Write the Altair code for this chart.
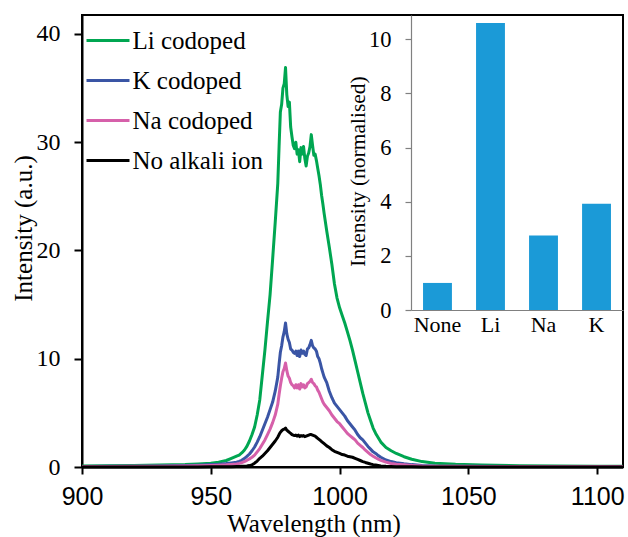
import altair as alt
import pandas as pd

# ---------------- data ----------------
WL = [900, 910, 920, 930, 940, 945, 950, 953, 956, 958,
      960, 961, 962, 963, 964, 965, 966, 967, 968, 969, 970, 971, 972, 973, 974, 975,
      976,
      976.5, 977, 977.5, 978, 978.5, 979, 979.5, 980, 980.5, 981, 981.5, 982,
      982.5, 983, 983.5, 984, 984.5, 985, 985.5, 986, 986.5, 987, 987.5, 988,
      988.5, 989, 989.5, 990, 990.5, 991, 991.5, 992, 992.5, 993, 993.5, 994,
      995, 996, 997, 998, 999, 1000, 1001, 1002, 1003, 1004, 1005, 1006, 1007,
      1008, 1009, 1010, 1011, 1012, 1013, 1014, 1015, 1016,
      1018, 1020, 1022, 1025, 1028, 1032, 1037, 1045, 1055, 1070, 1085, 1100, 1110]

LI = [0.10, 0.12, 0.15, 0.18, 0.22, 0.28, 0.35, 0.45, 0.6, 0.8,
      1.0, 1.1, 1.3, 1.55, 1.9, 2.4, 3.0, 3.7, 4.8, 6.2, 8.5, 10.8, 13.4, 15.9, 19.2, 22.6,
      26.2,
      29.6, 32.8, 33.5, 35.0, 35.4, 36.9, 34.4, 33.3, 33.7, 31.4, 30.5, 29.7,
      29.4, 30.0, 28.9, 29.3, 28.2, 29.5, 28.9, 29.6, 28.5, 27.8, 28.7, 29.0,
      29.6, 30.7, 29.7, 28.8, 28.9, 28.3, 27.6, 26.9, 26.1, 25.1, 24.3, 23.4,
      21.8, 20.3, 18.7, 16.9, 15.6, 14.7, 14.0, 13.3, 12.5, 11.7, 10.8, 9.8, 8.8,
      7.8, 6.8, 5.9, 5.0, 4.3, 3.6, 3.1, 2.7, 2.3,
      1.8, 1.5, 1.25, 0.95, 0.72, 0.5, 0.35, 0.25, 0.18, 0.12, 0.10, 0.08, 0.07]

K = [0.05, 0.06, 0.08, 0.10, 0.14, 0.17, 0.22, 0.26, 0.32, 0.38,
     0.45, 0.52, 0.62, 0.78, 0.98, 1.2, 1.5, 1.85, 2.3, 2.8, 3.4, 4.0, 4.6, 5.3, 6.0, 7.0,
     8.3,
     9.5, 10.6, 11.2, 12.0, 12.5, 13.3, 12.3, 11.8, 11.5, 10.9, 10.8, 10.6,
     10.5, 10.7, 10.3, 10.7, 10.2, 10.8, 10.5, 10.7, 10.4, 10.3, 10.9, 11.0,
     11.3, 11.7, 11.2, 11.0, 10.9, 10.7, 10.2, 10.0, 9.6, 9.1, 8.7, 8.3,
     7.8, 7.0, 6.4, 5.9, 5.6, 5.3, 5.0, 4.7, 4.3, 4.0, 3.7, 3.4, 3.0,
     2.7, 2.5, 2.2, 1.9, 1.65, 1.4, 1.25, 1.05, 0.9,
     0.65, 0.5, 0.4, 0.3, 0.22, 0.15, 0.10, 0.08, 0.06, 0.05, 0.05, 0.04, 0.04]

NA = [0.04, 0.05, 0.06, 0.07, 0.09, 0.11, 0.14, 0.17, 0.20, 0.24,
      0.28, 0.33, 0.4, 0.5, 0.62, 0.75, 0.9, 1.1, 1.4, 1.7, 2.1, 2.5, 3.0, 3.5, 4.1, 4.8,
      5.8,
      6.7, 7.5, 8.2, 8.8, 9.1, 9.6, 8.9, 8.4, 8.2, 7.8, 7.6, 7.5,
      7.3, 7.6, 7.3, 7.6, 7.2, 7.7, 7.4, 7.6, 7.3, 7.4, 7.7, 7.8,
      7.9, 8.1, 7.8, 7.7, 7.5, 7.4, 7.1, 6.9, 6.6, 6.3, 6.0, 5.8,
      5.5, 5.2, 4.8, 4.5, 4.2, 4.0, 3.7, 3.4, 3.1, 2.9, 2.7, 2.5, 2.2,
      2.0, 1.8, 1.55, 1.35, 1.15, 1.0, 0.85, 0.72, 0.62,
      0.45, 0.33, 0.26, 0.20, 0.15, 0.10, 0.08, 0.06, 0.05, 0.04, 0.04, 0.04, 0.04]

NONE = [0.0, 0.0, 0.0, 0.01, 0.01, 0.01, 0.02, 0.02, 0.03, 0.03,
        0.04, 0.05, 0.06, 0.07, 0.09, 0.13, 0.2, 0.35, 0.55, 0.8, 1.0, 1.25, 1.5, 1.8, 2.1, 2.4,
        2.75,
        3.0, 3.2, 3.35, 3.45, 3.5, 3.6, 3.4, 3.3, 3.2, 3.1, 3.0, 2.95,
        2.9, 2.95, 2.85, 2.95, 2.8, 2.9, 2.85, 2.9, 2.8, 2.85, 2.9, 2.95,
        3.0, 3.0, 2.95, 2.9, 2.85, 2.75, 2.65, 2.55, 2.45, 2.35, 2.25, 2.15,
        1.95, 1.8, 1.6, 1.45, 1.35, 1.25, 1.15, 1.1, 1.0, 0.95, 0.9, 0.8, 0.7,
        0.6, 0.5, 0.42, 0.35, 0.28, 0.22, 0.18, 0.14, 0.10,
        0.06, 0.04, 0.03, 0.02, 0.02, 0.01, 0.01, 0.0, 0.0, 0.0, 0.0, 0.0, 0.0]

SERIES = ["Li codoped", "K codoped", "Na codoped", "No alkali ion"]
COLORS = ["#00A651", "#3A55A5", "#D660AA", "#000000"]

BAR_CATS = ["None", "Li", "Na", "K"]
BAR_VALS = [1.0, 10.6, 2.75, 3.93]

X_TICKS = [900, 950, 1000, 1050, 1100]
Y_TICKS = [0, 10, 20, 30, 40]
INSET_Y_TICKS = [0, 2, 4, 6, 8, 10]

# ---------------- tables ----------------
rows = []
for name, vals in zip(SERIES, [LI, K, NA, NONE]):
    for w, v in zip(WL, vals):
        rows.append({"wl": w, "val": v, "series": name})
spec = pd.DataFrame(rows)
bars = pd.DataFrame({"cat": BAR_CATS, "val": BAR_VALS})

SERIF = "Liberation Serif, Times New Roman, serif"
SANS = "Liberation Sans, Arial, sans-serif"
W, H = 541, 452

lines = alt.Chart(spec).mark_line(strokeWidth=3, strokeJoin="round").encode(
    x=alt.X("wl:Q",
            scale=alt.Scale(domain=[900, 1110], nice=False, zero=False),
            axis=alt.Axis(values=X_TICKS, format="d", title="Wavelength (nm)", grid=False,
                          labelFont=SANS, labelFontSize=25, labelColor="black",
                          labelPadding=10, labelFlush=False,
                          tickSize=7, tickWidth=2, tickColor="black",
                          domainColor="black", domainWidth=2,
                          titleFont=SERIF, titleFontSize=25, titleFontWeight="normal",
                          titleColor="black", titleX=231.5, titleY=64.5,
                          titleAlign="center", titleBaseline="alphabetic")),
    y=alt.Y("val:Q",
            scale=alt.Scale(domain=[0, 41.75], nice=False),
            axis=alt.Axis(values=Y_TICKS, format="d", title="Intensity (a.u.)", grid=False,
                          labelFont=SERIF, labelFontSize=24, labelColor="black",
                          labelPadding=14, labelFlush=False,
                          tickSize=8, tickWidth=2, tickColor="black",
                          domainColor="black", domainWidth=2,
                          titleFont=SERIF, titleFontSize=25, titleFontWeight="normal",
                          titleColor="black", titleX=-59, titleY=213,
                          titleAlign="center", titleBaseline="middle")),
    color=alt.Color("series:N",
                    scale=alt.Scale(domain=SERIES, range=COLORS),
                    legend=alt.Legend(title=None, orient="none", legendX=13.5, legendY=13,
                                      symbolType="M-2,0H2", symbolSize=462,
                                      symbolStrokeWidth=3, symbolOffset=0,
                                      labelFont=SERIF, labelFontSize=25, labelColor="black",
                                      labelOffset=12, rowPadding=14, padding=0,
                                      labelLimit=300)),
)

inset = alt.Chart(bars).mark_bar(color="#1B9AD7").encode(
    x=alt.X("cat:N", sort=BAR_CATS,
            scale=alt.Scale(range=[329, 541], paddingInner=0.455, paddingOuter=0.227),
            axis=alt.Axis(orient="bottom", offset=-157, title=None, labelAngle=0,
                          ticks=False, domainColor="#808080", domainWidth=1.2,
                          labelFont=SERIF, labelFontSize=22, labelColor="black",
                          labelPadding=4)),
    y=alt.Y("val:Q",
            scale=alt.Scale(domain=[0, 10.9], range=[295, 0], nice=False),
            axis=alt.Axis(orient="left", offset=-329, values=INSET_Y_TICKS, format="d",
                          grid=False, title="Intensity (normalised)",
                          domainColor="#808080", domainWidth=1.2,
                          tickColor="#808080", tickWidth=1.2, tickSize=6,
                          labelFont=SERIF, labelFontSize=22.5, labelColor="black",
                          labelPadding=14, labelFlush=False,
                          titleFont=SERIF, titleFontSize=21.5, titleFontWeight="normal",
                          titleColor="black", titleX=-53, titleY=156,
                          titleAlign="center", titleBaseline="middle")),
)

chart = alt.layer(lines, inset).resolve_scale(
    x="independent", y="independent"
).properties(
    width=W, height=H,
    autosize=alt.AutoSizeParams(type="none"),
    padding={"left": 82, "top": 15, "right": 5, "bottom": 70},
    background="white",
).configure_view(
    stroke="black", strokeWidth=2
).configure_axis(
    labelFont=SERIF, titleFont=SERIF
).configure_legend(
    labelFont=SERIF
)

chart.save("out.html", embed_options={"renderer": "svg", "actions": False})
